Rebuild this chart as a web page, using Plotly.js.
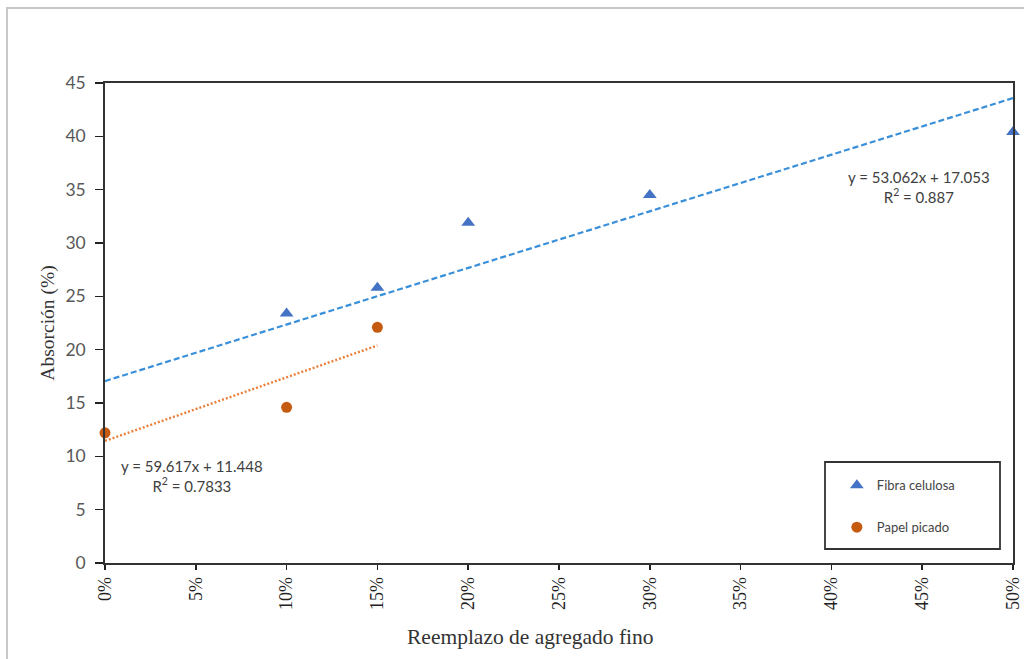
<!DOCTYPE html>
<html>
<head>
<meta charset="utf-8">
<script src="https://cdn.plot.ly/plotly-3.0.1.min.js"></script>
<style>
html,body{margin:0;padding:0;background:#fff;}
#chart{width:1024px;height:659px;}
</style>
</head>
<body>
<div id="chart"></div>
<script>
// Data (x as fraction of replacement, y = absorption %)
const fibraX = [0.10, 0.15, 0.20, 0.30, 0.50];
const fibraY = [23.4, 25.8, 31.9, 34.5, 40.4];
const papelX = [0.00, 0.10, 0.15];
const papelY = [12.2, 14.6, 22.1];
// Trendline equations shown on chart
const fibraSlope = 53.062, fibraIntercept = 17.053, fibraR2 = "0.887";
const papelSlope = 59.617, papelIntercept = 11.448, papelR2 = "0.7833";
const fibraTrendX = [0, 0.5];
const papelTrendX = [0, 0.15];
const seriesNames = ["Fibra celulosa", "Papel picado"];
const xTitle = "Reemplazo de agregado fino";
const yTitle = "Absorción (%)";

const fibraTrendY = fibraTrendX.map(x => fibraSlope * x + fibraIntercept);
const papelTrendY = papelTrendX.map(x => papelSlope * x + papelIntercept);

const sans = "Lato, 'Open Sans', sans-serif";
const serif = "'Liberation Serif', 'DejaVu Serif', serif";
const L = 105, R = 1013, T = 83, B = 563;
const px = v => (v - L) / (R - L);
const py = v => (B - v) / (B - T);

const traces = [
  {x: fibraTrendX, y: fibraTrendY, mode: 'lines', showlegend: false, hoverinfo: 'skip',
   line: {color: '#3A8FD9', width: 2.2, dash: '6px,3px'}},
  {x: papelTrendX, y: papelTrendY, mode: 'lines', showlegend: false, hoverinfo: 'skip',
   line: {color: '#E97F3A', width: 2.4, dash: '2px,2px'}},
  {x: fibraX, y: fibraY, mode: 'markers', name: seriesNames[0], legendgroup: 'a',
   marker: {symbol: 'triangle-up', size: 12, color: '#4472C4'}, cliponaxis: false},
  {x: papelX, y: papelY, mode: 'markers', name: seriesNames[1], legendgroup: 'b',
   marker: {symbol: 'circle', size: 11, color: '#C55A11'}, cliponaxis: false}
];

const layout = {
  width: 1024, height: 659,
  margin: {l: L, r: 1024 - R, t: T, b: 659 - B},
  paper_bgcolor: '#ffffff', plot_bgcolor: '#ffffff',
  showlegend: true,
  xaxis: {
    range: [0, 0.5], dtick: 0.05, tick0: 0, tickformat: '.0%',
    tickangle: -90, ticks: 'outside', ticklen: 5, tickwidth: 1.5, tickcolor: '#222',
    showline: true, linecolor: '#333', linewidth: 1.8, mirror: true,
    showgrid: false, zeroline: false,
    tickfont: {family: serif, size: 18, color: '#222'}
  },
  yaxis: {
    range: [0, 45], dtick: 5, ticks: 'outside', ticklen: 8, tickwidth: 1.5, tickcolor: '#222',
    ticklabelstandoff: 6,
    showline: true, linecolor: '#333', linewidth: 1.8, mirror: true,
    showgrid: false, zeroline: false,
    tickfont: {family: sans, size: 17.5, color: '#595959'},
    title: {text: yTitle, font: {family: serif, size: 19.5, color: '#333'}, standoff: 5}
  },
  legend: {
    x: 0.806, y: 0.193, xanchor: 'left', yanchor: 'top',
    bgcolor: 'rgba(0,0,0,0)', borderwidth: 0,
    tracegroupgap: 22,
    font: {family: sans, size: 13, color: '#444'}
  },
  shapes: [
    // legend box
    {type: 'rect', xref: 'paper', yref: 'paper', x0: px(825), x1: px(1000), y0: py(549), y1: py(462),
     line: {color: '#333', width: 1.8}, fillcolor: 'rgba(0,0,0,0)'},
    // outer chart frame
    {type: 'rect', xref: 'paper', yref: 'paper', x0: px(7), x1: 1.2, y0: -0.4, y1: py(8),
     line: {color: '#c8c8c8', width: 2}, fillcolor: 'rgba(0,0,0,0)', layer: 'below'}
  ],
  annotations: [
    {xref: 'paper', yref: 'paper', x: px(919), y: py(187), xanchor: 'center', yanchor: 'middle', showarrow: false,
     text: 'y = ' + fibraSlope + 'x + ' + fibraIntercept + '<br>R<sup>2</sup> = ' + fibraR2,
     align: 'center', font: {family: sans, size: 15, color: '#404040'}},
    {xref: 'paper', yref: 'paper', x: px(192), y: py(476), xanchor: 'center', yanchor: 'middle', showarrow: false,
     text: 'y = ' + papelSlope + 'x + ' + papelIntercept + '<br>R<sup>2</sup> = ' + papelR2,
     align: 'center', font: {family: sans, size: 15, color: '#404040'}},
    {xref: 'paper', yref: 'paper', x: px(530), y: py(637), xanchor: 'center', yanchor: 'middle', showarrow: false,
     text: xTitle, font: {family: serif, size: 21.5, color: '#333'}}
  ]
};

Plotly.newPlot('chart', traces, layout, {displayModeBar: false, staticPlot: true});
</script>
</body>
</html>
